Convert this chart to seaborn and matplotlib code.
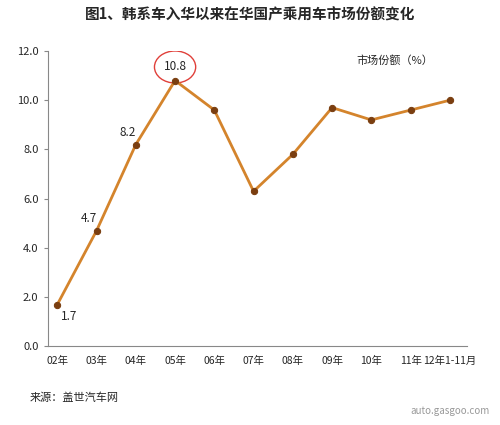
import matplotlib
matplotlib.use("Agg")
import matplotlib.pyplot as plt
import seaborn as sns
import pandas as pd
from matplotlib.patches import Ellipse

years = ["02年", "03年", "04年", "05年", "06年", "07年", "08年", "09年", "10年", "11年", "12年1-11月"]
share = [1.7, 4.7, 8.2, 10.8, 9.6, 6.3, 7.8, 9.7, 9.2, 9.6, 10.0]
labeled = {0: "1.7", 1: "4.7", 2: "8.2", 3: "10.8"}

sns.set_style("white")
plt.rcParams['font.family'] = ['Noto Sans CJK SC', 'DejaVu Sans']

df = pd.DataFrame({"x": range(len(years)), "y": share})
fig = plt.figure(figsize=(5, 4.25), dpi=100)
ax = fig.add_axes([0.095, 0.185, 0.84, 0.695])
sns.lineplot(data=df, x="x", y="y", ax=ax, color="#D4842C", linewidth=2,
             marker="o", markersize=4.5, markerfacecolor="#7A3E10", markeredgecolor="#7A3E10")
ax.set_ylim(0, 12)
ax.set_yticks([0, 2, 4, 6, 8, 10, 12])
ax.set_yticklabels([f"{v:.1f}" for v in [0, 2, 4, 6, 8, 10, 12]], fontsize=8)
ax.set_xlim(-0.25, len(years) - 0.55)
ax.set_xticks(range(len(years)))
ax.set_xticklabels(years, fontsize=7.5)
ax.get_xticklabels()[-1].set_x(10.15)
ax.set_xlabel(""); ax.set_ylabel("")
for s in ["top", "right"]:
    ax.spines[s].set_visible(False)
for s in ["left", "bottom"]:
    ax.spines[s].set_color("#888888")
ax.tick_params(axis="y", left=True, length=3, color="#888888")
ax.tick_params(axis="x", bottom=False)

offs = {0: (0.3, -0.5), 1: (-0.2, 0.5), 2: (-0.2, 0.5), 3: (0, 0.55)}
for i, t in labeled.items():
    ax.text(i + offs[i][0], share[i] + offs[i][1], t, ha="center", va="center", fontsize=8.5)
ax.add_patch(Ellipse((3, share[3] + 0.55), 1.05, 1.3, fill=False, edgecolor="#E0403A", linewidth=1))
ax.text(8.6, 11.6, "市场份额（%）", ha="center", va="center", fontsize=8)

fig.text(0.5, 0.965, "图1、韩系车入华以来在华国产乘用车市场份额变化", ha="center", va="center",
         fontsize=10.5, fontweight="bold")
fig.text(0.06, 0.065, "来源：盖世汽车网", ha="left", va="center", fontsize=8)
fig.text(0.98, 0.02, "auto.gasgoo.com", ha="right", va="bottom", fontsize=7, color="#999999")
fig.savefig("out.png", dpi=100)
